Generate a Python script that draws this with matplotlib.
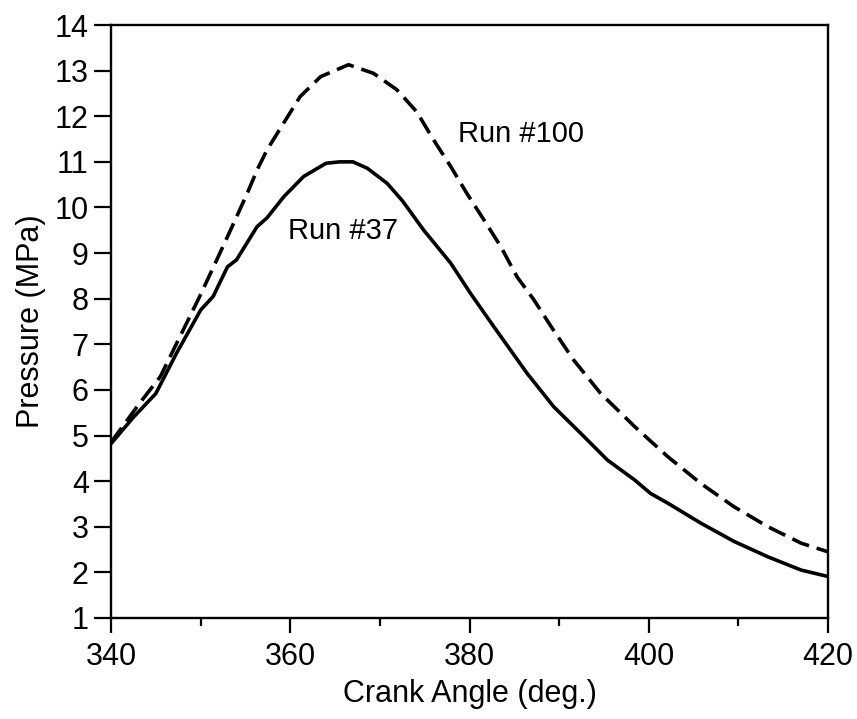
import matplotlib
matplotlib.use("Agg")
import matplotlib.pyplot as plt
from matplotlib.ticker import MultipleLocator

plt.rcParams['font.family'] = ['Liberation Sans', 'DejaVu Sans']

# Cylinder pressure traces (crank angle in degrees, pressure in MPa)
run37_angle = [340.0, 342.5, 345.0, 347.3, 350.0, 351.4, 353.0, 354.0, 356.3, 357.4,
               359.3, 361.5, 364.0, 365.5, 367.0, 368.6, 370.8, 372.5, 374.9, 377.9,
               380.1, 382.7, 386.4, 389.4, 392.4, 395.4, 398.4, 400.2, 402.1, 405.8,
               409.5, 413.3, 417.0, 420.0]
run37_pressure = [4.82, 5.40, 5.92, 6.80, 7.75, 8.05, 8.70, 8.85, 9.58, 9.77,
                  10.24, 10.68, 10.97, 11.00, 11.00, 10.86, 10.53, 10.15, 9.50, 8.78,
                  8.12, 7.39, 6.37, 5.63, 5.05, 4.46, 4.03, 3.73, 3.52, 3.08,
                  2.68, 2.34, 2.05, 1.91]

run100_angle = [340.0, 343.2, 345.5, 347.7, 349.9, 351.8, 353.7, 355.2, 356.3, 357.4,
                361.1, 363.4, 366.5, 369.3, 371.9, 374.1, 376.0, 377.9, 379.7, 381.6,
                383.5, 385.3, 387.2, 389.1, 391.6, 394.6, 398.4, 402.1, 405.8, 409.5,
                413.3, 417.0, 420.0]
run100_pressure = [4.85, 5.71, 6.29, 7.17, 8.05, 8.85, 9.66, 10.31, 10.82, 11.26,
                   12.43, 12.87, 13.13, 12.94, 12.58, 12.10, 11.48, 10.90, 10.31, 9.73,
                   9.14, 8.48, 7.97, 7.39, 6.66, 5.93, 5.20, 4.54, 3.95, 3.44,
                   3.00, 2.64, 2.45]

x_ticks = [340, 360, 380, 400, 420]
y_ticks = list(range(1, 15))

fig = plt.figure(figsize=(8.57, 7.19), dpi=100)
ax = fig.add_axes([0.1295, 0.1405, 0.8367, 0.8247])

ax.plot(run37_angle, run37_pressure, color='black', lw=2.6, solid_capstyle='butt',
        solid_joinstyle='round')
ax.plot(run100_angle, run100_pressure, color='black', lw=2.6,
        linestyle=(0, (5.0, 2.2)), dash_capstyle='butt')

ax.text(378.7, 11.61, 'Run #100', fontsize=21, va='center', ha='left')
ax.text(359.7, 9.49, 'Run #37', fontsize=21, va='center', ha='left')

ax.set_xlim(340, 420)
ax.set_ylim(1, 14)
ax.set_xticks(x_ticks)
ax.set_yticks(y_ticks)
ax.xaxis.set_minor_locator(MultipleLocator(10))

for side in ax.spines.values():
    side.set_linewidth(1.7)

ax.tick_params(axis='x', which='major', direction='out', length=11, width=1.6,
               pad=6, labelsize=22)
ax.tick_params(axis='x', which='minor', direction='out', length=6, width=1.6)
ax.tick_params(axis='y', which='major', direction='out', length=12, width=1.6,
               pad=4, labelsize=22)

ax.set_xlabel('Crank Angle (deg.)', fontsize=22, labelpad=5)
ax.set_ylabel('Pressure (MPa)', fontsize=22, labelpad=6)

fig.savefig('out.png', dpi=100)
